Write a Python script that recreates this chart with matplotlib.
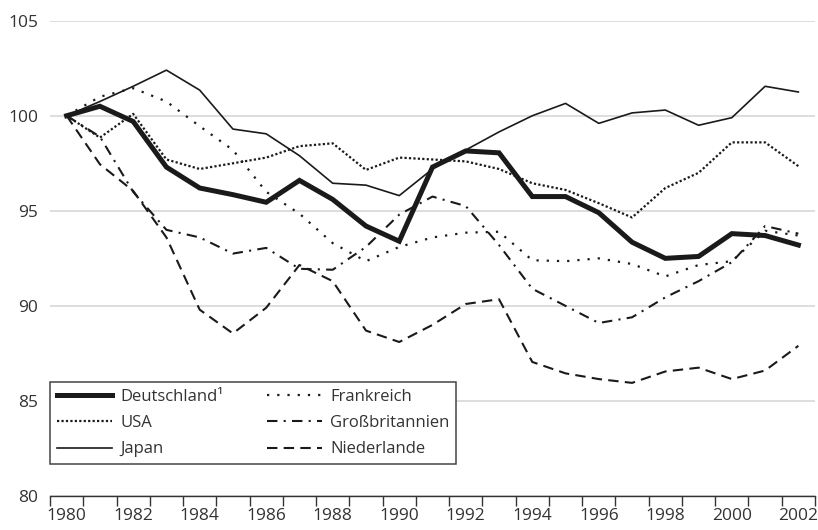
import matplotlib
matplotlib.use("Agg")
import matplotlib.pyplot as plt
import numpy as np

plt.rcParams['font.family'] = ['Open Sans', 'DejaVu Sans']

years = np.arange(1980, 2003)

deutschland = [100, 100.5, 99.7, 97.3, 96.2, 95.85, 95.45, 96.6, 95.6, 94.2, 93.4, 97.3,
               98.15, 98.05, 95.75, 95.75, 94.9, 93.35, 92.5, 92.6, 93.8, 93.7, 93.2]
usa = [100, 98.85, 100.1, 97.7, 97.2, 97.5, 97.8, 98.4, 98.55, 97.15, 97.8, 97.7,
       97.6, 97.2, 96.45, 96.1, 95.4, 94.65, 96.2, 97.0, 98.6, 98.6, 97.35]
japan = [100, 100.75, 101.55, 102.4, 101.35, 99.3, 99.05, 97.9, 96.45, 96.35, 95.8, 97.2,
         98.2, 99.15, 100.0, 100.65, 99.6, 100.15, 100.3, 99.5, 99.9, 101.55, 101.25]
frankreich = [100, 101.0, 101.45, 100.75, 99.45, 98.2, 96.0, 94.85, 93.3, 92.35, 93.1, 93.6,
              93.85, 93.9, 92.4, 92.35, 92.5, 92.2, 91.55, 92.15, 92.35, 93.95, 93.7]
grossbritannien = [100, 98.9, 96.0, 94.0, 93.6, 92.75, 93.05, 91.95, 91.9, 93.1, 94.8, 95.75,
                   95.25, 93.2, 90.9, 90.0, 89.1, 89.4, 90.45, 91.3, 92.3, 94.2, 93.8]
niederlande = [100, 97.45, 96.05, 93.6, 89.8, 88.55, 89.9, 92.15, 91.3, 88.7, 88.1, 89.0,
               90.1, 90.35, 87.05, 86.45, 86.15, 85.95, 86.55, 86.75, 86.15, 86.6, 87.9]

yticks = [80, 85, 90, 95, 100, 105]

ink = '#1a1a1a'
txt = '#333333'

fig = plt.figure(figsize=(8.18, 5.30), dpi=100)
ax = fig.add_axes([50 / 818, 1 - 496 / 530, 765 / 818, 475.3 / 530])

ax.plot(years, deutschland, color=ink, lw=3.6, solid_joinstyle='miter', label='Deutschland¹')
ax.plot(years, usa, color=ink, lw=1.6, linestyle=(0, (1, 1)), label='USA')
ax.plot(years, japan, color=ink, lw=1.2, label='Japan')
ax.plot(years, frankreich, color=ink, lw=1.6, linestyle=(0, (1, 3.6)), label='Frankreich')
ax.plot(years, grossbritannien, color=ink, lw=1.5, linestyle=(0, (5, 3, 1, 3)),
        label='Großbritannien')
ax.plot(years, niederlande, color=ink, lw=1.5, linestyle=(0, (5, 3)), label='Niederlande')

ax.set_xlim(1979.5, 2002.5)
ax.set_ylim(80, 105)

# ticks sit on the year boundaries, labels at the year centres
ax.set_xticks(np.arange(1979.5, 2003, 1))
ax.set_xticklabels([])
ax.set_xticks(years[::2], minor=True)
ax.set_xticklabels([str(y) for y in years[::2]], minor=True)
ax.tick_params(axis='x', which='major', direction='out', length=7, width=1, color=txt)
ax.tick_params(axis='x', which='minor', length=0, pad=9, labelsize=12.5, labelcolor=txt)

ax.set_yticks(yticks)
ax.tick_params(axis='y', length=0, pad=8.5, labelsize=12.5, labelcolor=txt)
ax.yaxis.grid(True, color='#d3d3d3', lw=1.1)
ax.set_axisbelow(True)

for s in ['top', 'right', 'left']:
    ax.spines[s].set_visible(False)
ax.spines['bottom'].set_color(txt)
ax.spines['bottom'].set_linewidth(1)

leg = ax.legend(loc='lower left', bbox_to_anchor=(0, 0.0673, 0.5307, 0.17), mode='expand',
                ncol=2, borderaxespad=0, fontsize=12, handlelength=3.3, handletextpad=0.5,
                labelspacing=0.62, borderpad=0.4, fancybox=False, framealpha=1,
                edgecolor='#444444', labelcolor=txt)
leg.get_frame().set_linewidth(1.1)

fig.savefig('out.png', dpi=100)
